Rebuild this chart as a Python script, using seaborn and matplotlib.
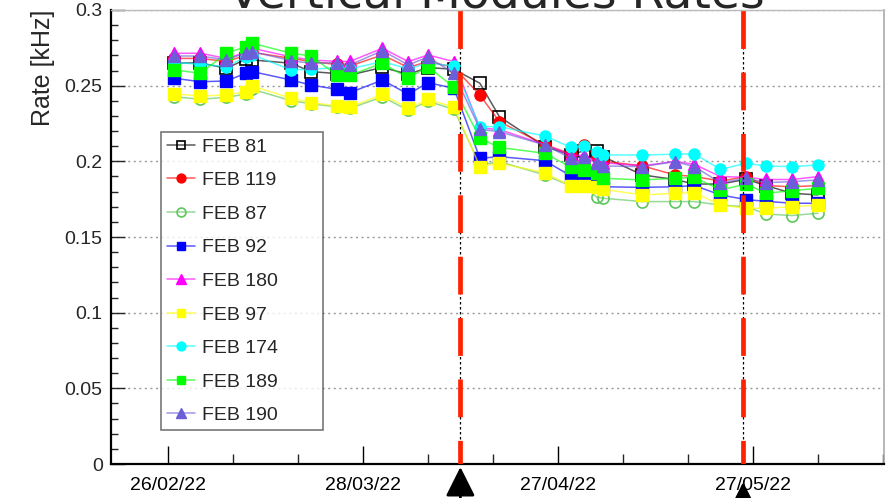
import matplotlib
matplotlib.use("Agg")
import matplotlib.pyplot as plt
import matplotlib.dates as mdates
from matplotlib.ticker import FixedLocator, MultipleLocator, FuncFormatter
import pandas as pd
import seaborn as sns

# ---- data -------------------------------------------------------------
dates = ["2022-02-27", "2022-03-03", "2022-03-07", "2022-03-10", "2022-03-11",
         "2022-03-17", "2022-03-20", "2022-03-24", "2022-03-26", "2022-03-31",
         "2022-04-04", "2022-04-07", "2022-04-11", "2022-04-15", "2022-04-18",
         "2022-04-25", "2022-04-29", "2022-05-01", "2022-05-03", "2022-05-04",
         "2022-05-10", "2022-05-15", "2022-05-18", "2022-05-22", "2022-05-26",
         "2022-05-29", "2022-06-02", "2022-06-06"]

feb81 = [0.265, 0.265, 0.2615, 0.2674, 0.267, 0.2648, 0.2593, 0.258, 0.257, 0.2621,
         0.2575, 0.262, 0.2608, 0.2516, 0.2295, 0.2097, 0.2042, 0.207, 0.207, 0.203,
         0.191, 0.188, 0.185, 0.185, 0.1881, 0.184, 0.1789, 0.1778]
feb119 = [0.268, 0.268, 0.266, 0.270, 0.272, 0.268, 0.266, 0.264, 0.263, 0.2703,
          0.262, 0.266, 0.2621, 0.2438, 0.2262, 0.211, 0.205, 0.2108, 0.203, 0.200,
          0.197, 0.191, 0.190, 0.187, 0.1899, 0.184, 0.1832, 0.184]
feb87 = [0.2427, 0.241, 0.2423, 0.2445, 0.2476, 0.240, 0.2381, 0.2359, 0.235, 0.2426,
         0.2337, 0.2397, 0.2343, 0.1976, 0.1998, 0.191, 0.1837, 0.1837, 0.1762, 0.1756,
         0.1734, 0.1734, 0.1734, 0.1711, 0.170, 0.1652, 0.1642, 0.1657]
feb92 = [0.2549, 0.2526, 0.2531, 0.2582, 0.2593, 0.2537, 0.2504, 0.2476, 0.2454, 0.2537,
         0.2443, 0.252, 0.2483, 0.202, 0.2031, 0.2004, 0.1903, 0.188, 0.1866, 0.1832,
         0.1828, 0.1832, 0.184, 0.1778, 0.1747, 0.1736, 0.1723, 0.1723]
feb180 = [0.2714, 0.2714, 0.268, 0.272, 0.2747, 0.269, 0.267, 0.266, 0.266, 0.2747,
          0.2659, 0.2703, 0.2659, 0.222, 0.221, 0.211, 0.204, 0.204, 0.200, 0.199,
          0.197, 0.200, 0.198, 0.1899, 0.1895, 0.188, 0.188, 0.1899]
feb97 = [0.2445, 0.2432, 0.2438, 0.246, 0.2498, 0.2416, 0.2388, 0.2366, 0.2357, 0.2443,
         0.235, 0.241, 0.2357, 0.1965, 0.1987, 0.1925, 0.1837, 0.1837, 0.1828, 0.1815,
         0.1778, 0.1789, 0.1793, 0.1711, 0.169, 0.169, 0.170, 0.1711]
feb174 = [0.2654, 0.2641, 0.2626, 0.269, 0.2703, 0.2604, 0.2608, 0.262, 0.261, 0.266,
          0.261, 0.265, 0.263, 0.2229, 0.2229, 0.2167, 0.2093, 0.2101, 0.206, 0.2042,
          0.2042, 0.2047, 0.2049, 0.1947, 0.1987, 0.1969, 0.1965, 0.1976]
feb189 = [0.2604, 0.2582, 0.2714, 0.2758, 0.278, 0.2714, 0.2696, 0.257, 0.257, 0.2648,
          0.2549, 0.2626, 0.2489, 0.2152, 0.2092, 0.2053, 0.1961, 0.1943, 0.1921, 0.1888,
          0.1877, 0.1888, 0.1894, 0.1811, 0.185, 0.1789, 0.1806, 0.1822]
feb190 = [0.2696, 0.2696, 0.267, 0.2718, 0.2725, 0.2665, 0.2648, 0.2652, 0.2637, 0.2731,
          0.2637, 0.269, 0.2582, 0.2211, 0.2196, 0.2108, 0.202, 0.2031, 0.1987, 0.1969,
          0.1965, 0.1998, 0.1965, 0.1859, 0.1888, 0.1859, 0.1866, 0.1877]

labels = ["FEB 81", "FEB 119", "FEB 87", "FEB 92", "FEB 180",
          "FEB 97", "FEB 174", "FEB 189", "FEB 190"]
series = [feb81, feb119, feb87, feb92, feb180, feb97, feb174, feb189, feb190]

tick_dates = ["2022-02-26", "2022-03-28", "2022-04-27", "2022-05-27"]
intervention_dates = ["2022-04-12", "2022-05-25 12:00"]

# ---- styling ------------------------------------------------------------
colors = ["#000000", "#ff0000", "#5cc75c", "#0000ff", "#ff00ff",
          "#ffff00", "#00ffff", "#00ff00", "#6a5fd8"]
markers = ["s", "o", "o", "s", "^", "s", "o", "s", "^"]
filled = [False, True, False, True, True, True, True, True, True]

sns.set_style("white")
plt.rcParams["font.family"] = ["Liberation Sans", "DejaVu Sans"]

fig = plt.figure(figsize=(8.89, 4.98), dpi=100)
ax = fig.add_axes([111 / 889, 1 - 464 / 498, 773 / 889, 454 / 498])

x = pd.to_datetime(dates)
for lab, vals, col, mk, fl in zip(labels, series, colors, markers, filled):
    rgb = matplotlib.colors.to_rgb(col)
    sns.lineplot(x=x, y=vals, ax=ax, color=rgb + (0.65,), linewidth=1.1,
                 marker=mk, markersize=9 if mk == "^" else 8,
                 markerfacecolor=(rgb if fl else "none"),
                 markeredgecolor=rgb, markeredgewidth=1.0 if fl else 1.2,
                 label=lab, zorder=3)

# intervention markers: thin black dashed line under a thick red dashed one
for d in intervention_dates:
    xd = mdates.date2num(pd.Timestamp(d))
    ax.axvline(xd, color="black", lw=0.9, ls=(0, (2, 2)), zorder=4)
    ax.axvline(xd, color="#ff2200", lw=3.4, ls=(3, (8, 5)), zorder=5)

# axes ranges and ticks
ax.set_xlim(mdates.date2num(pd.Timestamp("2022-02-17 06:00")),
            mdates.date2num(pd.Timestamp("2022-06-16 04:00")))
ax.set_ylim(0, 0.3)
ax.xaxis.set_major_locator(FixedLocator(mdates.date2num(pd.to_datetime(tick_dates))))
ax.xaxis.set_minor_locator(FixedLocator(
    mdates.date2num(pd.date_range("2022-02-16", "2022-06-16", freq="10D"))))
ax.xaxis.set_major_formatter(mdates.DateFormatter("%d/%m/%y"))
ax.yaxis.set_major_locator(MultipleLocator(0.05))
ax.yaxis.set_minor_locator(MultipleLocator(0.01))
ax.yaxis.set_major_formatter(FuncFormatter(lambda v, p: f"{v:g}"))

ax.tick_params(axis="x", which="major", direction="in", length=13, width=1,
               labelsize=14, pad=9, colors="black", bottom=True, top=False)
ax.tick_params(axis="x", which="minor", direction="in", length=7, width=1,
               bottom=True, top=False)
ax.tick_params(axis="y", which="major", direction="in", length=10, width=1,
               labelsize=14, pad=6, left=True, right=False)
ax.tick_params(axis="y", which="minor", direction="in", length=5, width=1,
               left=True, right=False)

ax.yaxis.grid(True, which="major", color="#999999", ls=(0, (1.5, 2.5)), lw=1)
ax.xaxis.grid(False)
ax.set_xlabel("")
ax.set_ylabel("Rate [kHz]", loc="top", fontsize=18)
ax.yaxis.set_label_coords(-0.072, 1.0)

for side in ("left", "bottom"):
    ax.spines[side].set_color("black")
    ax.spines[side].set_linewidth(1.6)
ax.spines["right"].set_color("#aaaaaa")
ax.spines["right"].set_linewidth(1.2)
ax.spines["top"].set_color("#bbbbbb")
ax.spines["top"].set_linewidth(1.0)

leg = ax.legend(loc="lower left", mode="expand",
                bbox_to_anchor=(50 / 773, 34 / 454, 162 / 773, 298 / 454),
                borderaxespad=0, fontsize=14, frameon=True, fancybox=False,
                edgecolor="#555555", handlelength=1.45, handletextpad=0.36,
                labelspacing=0.82, borderpad=0.3, markerscale=0.8)
leg.get_frame().set_linewidth(1.2)
for h in leg.get_lines():
    h.set_alpha(None)

fig.text(496 / 889, 1 - 8 / 498, "Vertical Modules Rates", fontsize=34,
         ha="center", va="baseline", family="DejaVu Sans")

# arrows pointing at the intervention dates
for d, tip in zip(intervention_dates, [467, 482]):
    xd = mdates.date2num(pd.Timestamp(d))
    ax.annotate("", xy=(xd, 1 - tip / 498), xycoords=("data", "figure fraction"),
                xytext=(xd, -0.05), textcoords=("data", "figure fraction"),
                arrowprops=dict(arrowstyle="-|>,head_length=1.0,head_width=0.5",
                                color="black", lw=2, mutation_scale=18,
                                shrinkA=0, shrinkB=0))

fig.savefig("out.png", dpi=100)
